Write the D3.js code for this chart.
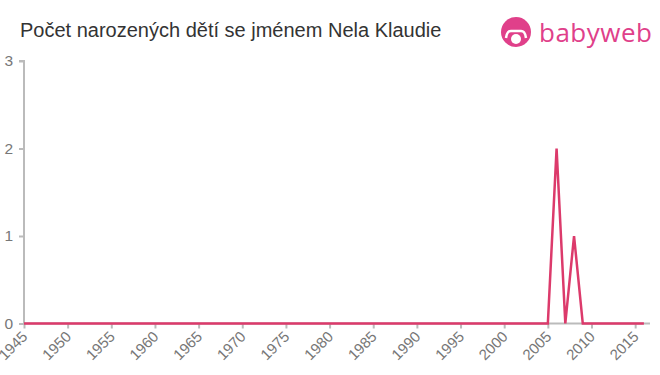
<!DOCTYPE html>
<html>
<head>
<meta charset="utf-8">
<script src="https://cdn.jsdelivr.net/npm/d3@7"></script>
<style>
  body { margin: 0; background: #fff; }
  svg { font-family: "Liberation Sans", Arial, sans-serif; }
</style>
</head>
<body>
<div id="chart"></div>
<script>
// data
const years = d3.range(1945, 2017);
const counts = years.map(y => (y === 2006 ? 2 : y === 2008 ? 1 : 0));
const yTicks = [0, 1, 2, 3];
const xTicks = d3.range(1945, 2016, 5);
const title = 'Počet narozených dětí se jménem Nela Klaudie';

const width = 660, height = 375;
const margin = { top: 61, right: 10, bottom: 52, left: 24 };

const svg = d3.select('#chart').append('svg')
  .attr('width', width)
  .attr('height', height);

const x = d3.scaleLinear()
  .domain([1945, 2016.7])
  .range([margin.left, 650]);

const y = d3.scaleLinear()
  .domain([0, 3])
  .range([323.5, 61]);

// title
svg.append('text')
  .attr('x', 20)
  .attr('y', 37)
  .attr('fill', '#333')
  .style('font-size', '20px')
  .text(title);

// logo
const logo = svg.append('g').attr('transform', 'translate(516,32)');
logo.append('circle').attr('r', 15).attr('fill', '#e0408a');
logo.append('circle').attr('cx', 0).attr('cy', 7).attr('r', 5).attr('fill', '#fff');
logo.append('path')
  .attr('d', 'M-10,6 Q-9,-2 -4,-1 L4,-1 Q9,-2 10,6')
  .attr('fill', 'none').attr('stroke', '#fff').attr('stroke-width', 2.5);
svg.append('text')
  .attr('x', 539)
  .attr('y', 42)
  .attr('fill', '#e0408a')
  .style('font-size', '26px')
  .style('font-family', '"Open Sans", sans-serif')
  .attr('textLength', 113)
  .text('babyweb');

// y axis
const yAxis = d3.axisLeft(y)
  .tickValues(yTicks)
  .tickFormat(d3.format('d'))
  .tickSize(5)
  .tickPadding(6);
const yG = svg.append('g')
  .attr('transform', `translate(${margin.left},0)`)
  .call(yAxis);
yG.select('.domain').attr('stroke', '#bbb').attr('stroke-width', 2)
  .attr('d', `M-5,${y(3)}H0V${y(0)}`);
yG.selectAll('.tick line').attr('stroke', '#bbb').attr('stroke-width', 2);
yG.selectAll('.tick text')
  .attr('fill', '#777')
  .style('font-size', '15.5px')
  .style('font-family', '"Liberation Sans", Arial, sans-serif');

// x axis
const xAxis = d3.axisBottom(x)
  .tickValues(xTicks)
  .tickFormat(d3.format('d'))
  .tickSize(5);
const xG = svg.append('g')
  .attr('transform', `translate(0,${y(0)})`)
  .call(xAxis);
xG.select('.domain').attr('stroke', '#bbb').attr('stroke-width', 2)
  .attr('d', `M${margin.left},0H650`);
xG.selectAll('.tick line').attr('stroke', '#bbb').attr('stroke-width', 2);
xG.selectAll('.tick text')
  .attr('fill', '#777')
  .style('font-size', '15px')
  .style('font-family', '"Liberation Sans", Arial, sans-serif')
  .attr('text-anchor', 'end')
  .attr('y', 0)
  .attr('dy', 0)
  .attr('transform', 'translate(4,14) rotate(-45)');

// line
const line = d3.line()
  .x((d, i) => x(years[i]))
  .y(d => y(d));

svg.append('path')
  .datum(counts)
  .attr('fill', 'none')
  .attr('stroke', '#dc3a6b')
  .attr('stroke-width', 2.5)
  .attr('stroke-linejoin', 'miter')
  .attr('d', line);
</script>
</body>
</html>
